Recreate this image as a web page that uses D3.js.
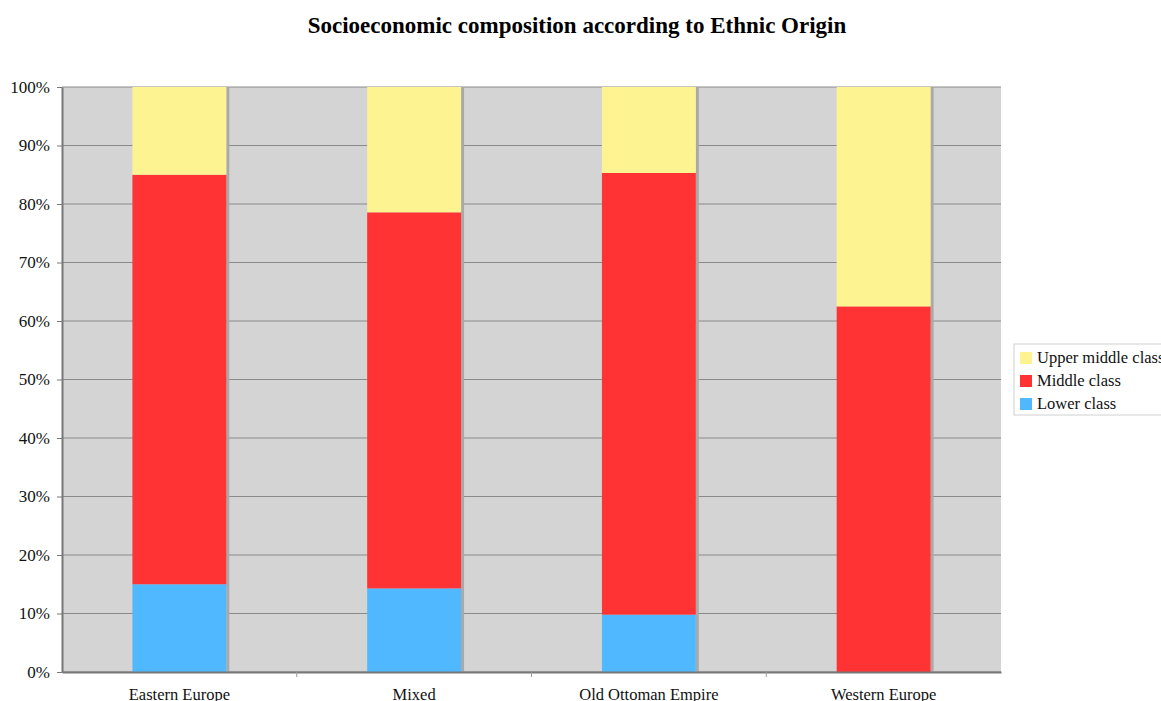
<!DOCTYPE html>
<html>
<head>
<meta charset="utf-8">
<script src="https://cdn.jsdelivr.net/npm/d3@7"></script>
<style>
  body { margin: 0; background: #fff; }
  svg { display: block; font-family: "Liberation Serif", "Times New Roman", serif; }
</style>
</head>
<body>
<svg id="chart"></svg>
<script>
// data (percent of each group)
const categories = ["Eastern Europe", "Mixed", "Old Ottoman Empire", "Western Europe"];
const seriesNames = ["Lower class", "Middle class", "Upper middle class"];
const lowerClass = [15.0, 14.29, 9.8, 0];
const middleClass = [70.0, 64.29, 75.5, 62.5];
const upperMiddleClass = [15.0, 21.42, 14.7, 37.5];
const yTicks = [0, 10, 20, 30, 40, 50, 60, 70, 80, 90, 100];

const colors = {
  "Lower class": "#4fb8ff",
  "Middle class": "#ff3333",
  "Upper middle class": "#fef391"
};

const svg = d3.select("#chart")
  .attr("width", 1161)
  .attr("height", 701);

const margin = { top: 87, right: 160, bottom: 29, left: 62 };
const width = 1161 - margin.left - margin.right;
const height = 701 - margin.top - margin.bottom;

// title
svg.append("text")
  .attr("x", 577)
  .attr("y", 33)
  .attr("text-anchor", "middle")
  .style("font-size", "23px")
  .style("font-weight", "bold")
  .text("Socioeconomic composition according to Ethnic Origin");

const g = svg.append("g")
  .attr("transform", `translate(${margin.left},${margin.top})`);

const x = d3.scaleBand()
  .domain(categories)
  .range([0, width])
  .paddingInner(0.6)
  .paddingOuter(0.3);

const y = d3.scaleLinear()
  .domain([0, 100])
  .range([height, 0]);

// plot background
g.append("rect")
  .attr("width", width)
  .attr("height", height)
  .attr("fill", "#d4d4d4");

// gridlines
g.selectAll(".grid")
  .data(yTicks)
  .join("line")
  .attr("class", "grid")
  .attr("x1", 0)
  .attr("x2", width)
  .attr("y1", d => y(d))
  .attr("y2", d => y(d))
  .attr("stroke", "#8a8a8a")
  .attr("stroke-width", 1);

const table = categories.map((c, i) => ({
  category: c,
  "Lower class": lowerClass[i],
  "Middle class": middleClass[i],
  "Upper middle class": upperMiddleClass[i]
}));

const stacked = d3.stack().keys(seriesNames)(table);

// bar shadows
g.selectAll(".shadow")
  .data(table)
  .join("rect")
  .attr("class", "shadow")
  .attr("x", d => x(d.category) + x.bandwidth())
  .attr("y", y(100))
  .attr("width", 3)
  .attr("height", height)
  .attr("fill", "#a9a9a9");

g.selectAll(".series")
  .data(stacked)
  .join("g")
  .attr("class", "series")
  .attr("fill", d => colors[d.key])
  .selectAll("rect")
  .data(d => d)
  .join("rect")
  .attr("x", d => x(d.data.category))
  .attr("y", d => y(d[1]))
  .attr("width", x.bandwidth())
  .attr("height", d => y(d[0]) - y(d[1]));

// y axis
const yAxis = g.append("g")
  .call(d3.axisLeft(y).tickValues(yTicks).tickFormat(d => d + "%").tickSize(5).tickSizeOuter(0));
yAxis.select(".domain").attr("stroke", "#777").attr("stroke-width", 2);
yAxis.selectAll(".tick line").attr("stroke", "#777");
yAxis.selectAll(".tick text")
  .attr("x", -12)
  .style("font-family", "Liberation Serif, serif")
  .style("font-size", "17px")
  .attr("fill", "#111");

// x axis
const xAxis = g.append("g")
  .attr("transform", `translate(0,${height})`)
  .call(d3.axisBottom(x).tickSize(0).tickSizeOuter(0));
xAxis.select(".domain").attr("stroke", "#777").attr("stroke-width", 2);
xAxis.selectAll(".tick text")
  .attr("y", 16)
  .style("font-family", "Liberation Serif, serif")
  .style("font-size", "16.5px")
  .attr("fill", "#111");

// small separators between categories
const step = x.step();
g.selectAll(".sep")
  .data(categories.slice(1))
  .join("line")
  .attr("class", "sep")
  .attr("x1", d => x(d) - (step - x.bandwidth()) / 2)
  .attr("x2", d => x(d) - (step - x.bandwidth()) / 2)
  .attr("y1", height)
  .attr("y2", height + 5)
  .attr("stroke", "#999");

// legend
const legend = svg.append("g")
  .attr("transform", "translate(1014,344)");

legend.append("rect")
  .attr("width", 160)
  .attr("height", 71)
  .attr("fill", "#fff")
  .attr("stroke", "#d0d0d0");

const legendItems = seriesNames.slice().reverse();
legend.selectAll(".item")
  .data(legendItems)
  .join("g")
  .attr("class", "item")
  .attr("transform", (d, i) => `translate(6,${7 + i * 23})`)
  .each(function(d) {
    const it = d3.select(this);
    it.append("rect")
      .attr("y", 1)
      .attr("width", 12)
      .attr("height", 12)
      .attr("fill", colors[d]);
    it.append("text")
      .attr("x", 17)
      .attr("y", 12)
      .style("font-size", "16.5px")
      .attr("fill", "#111")
      .text(d);
  });
</script>
</body>
</html>
